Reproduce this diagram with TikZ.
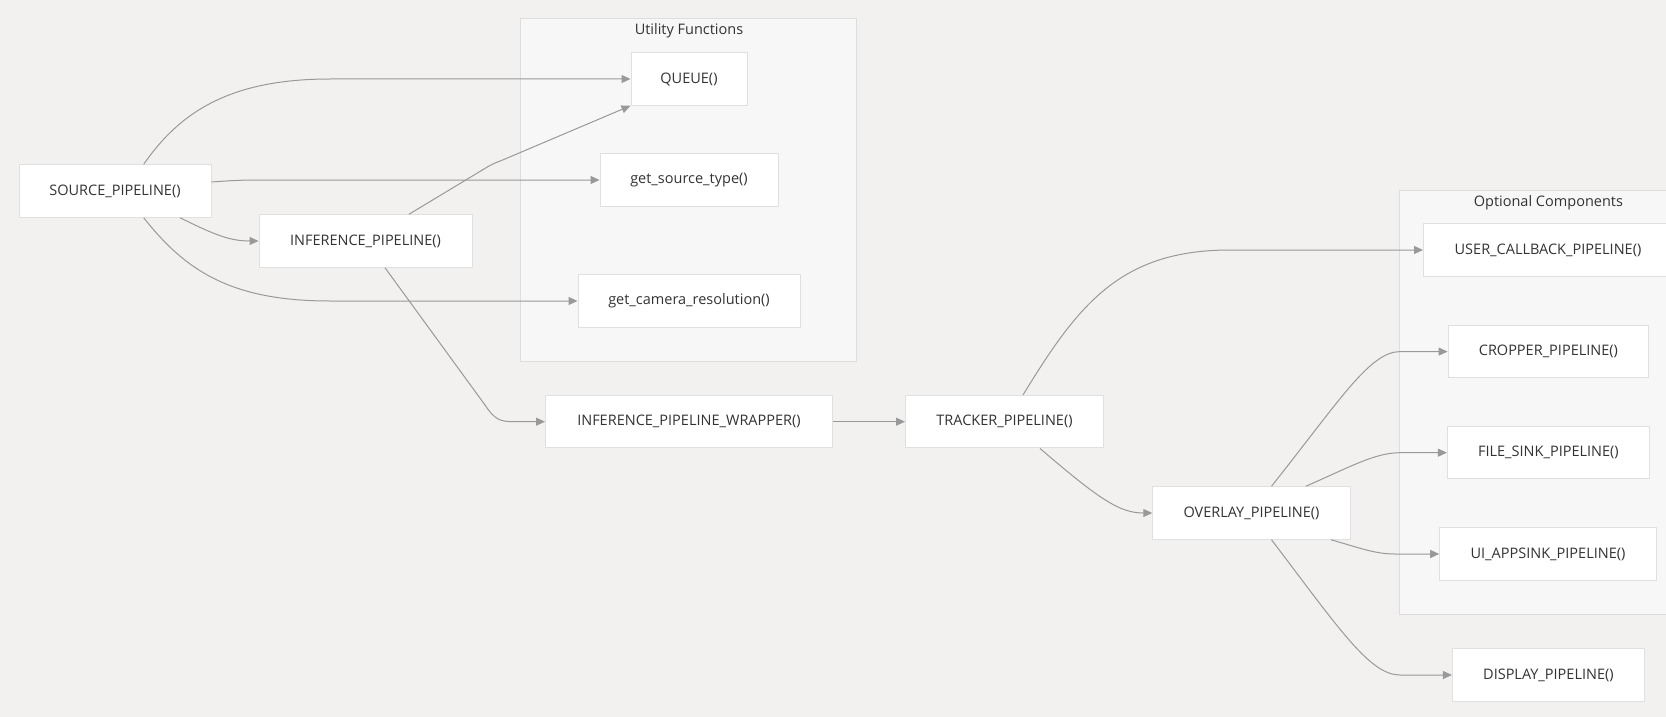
\documentclass[tikz,border=0pt]{standalone}
\usepackage{fontspec}
\setmainfont{Open Sans}
\usetikzlibrary{arrows.meta,calc}

\definecolor{canvasbg}{RGB}{242,241,239}
\definecolor{groupfill}{RGB}{247,247,247}
\definecolor{groupline}{RGB}{221,221,221}
\definecolor{boxline}{RGB}{224,224,224}
\definecolor{wire}{RGB}{153,153,153}
\definecolor{ink}{RGB}{51,51,51}

\tikzset{
  fn/.style={draw=boxline, line width=1pt, fill=white, rectangle,
    minimum height=52.5pt, inner sep=0pt, text=ink,
    font=\fontsize{14.5}{17}\selectfont},
  group/.style={draw=groupline, line width=1pt, fill=groupfill},
  grouptitle/.style={text=ink, font=\fontsize{14.5}{17}\selectfont, inner sep=0pt},
  link/.style={draw=wire, line width=1pt, -{Triangle[length=9pt,width=8pt]}},
}

\begin{document}
\begin{tikzpicture}[x=1pt,y=-1pt]
  % canvas
  \fill[canvasbg] (0,0) rectangle (1666,717);
  \useasboundingbox (0,0) rectangle (1666,717);
  \clip (0,0) rectangle (1666,717);

  % groups
  \draw[group] (520.6,18.7) rectangle (856.8,361);
  \node[grouptitle] (utiltitle) at (689,30.5) {Utility Functions};
  \draw[group] (1399.3,190.3) rectangle (1700,614);
  \node[grouptitle] (opttitle) at (1548.4,203) {Optional Components};

  % functions
  \node[fn, minimum width=192pt] (src)   at (115,191)      {SOURCE\_PIPELINE()};
  \node[fn, minimum width=213pt] (inf)   at (365.5,241)    {INFERENCE\_PIPELINE()};
  \node[fn, minimum width=116pt] (queue) at (689,79)       {QUEUE()};
  \node[fn, minimum width=178pt] (gst)   at (689,180)      {get\_source\_type()};
  \node[fn, minimum width=222pt] (gcr)   at (689,301)      {get\_camera\_resolution()};
  \node[fn, minimum width=287pt] (wrap)  at (689,421.7)    {INFERENCE\_PIPELINE\_WRAPPER()};
  \node[fn, minimum width=198pt] (trk)   at (1004.5,421.7) {TRACKER\_PIPELINE()};
  \node[fn, minimum width=197.5pt] (ovl) at (1251.5,513)   {OVERLAY\_PIPELINE()};
  \node[fn, minimum width=249pt] (ucb)   at (1548,250)     {USER\_CALLBACK\_PIPELINE()};
  \node[fn, minimum width=200.7pt] (crop) at (1548.4,351.6) {CROPPER\_PIPELINE()};
  \node[fn, minimum width=202pt] (fsink) at (1548.4,452.7) {FILE\_SINK\_PIPELINE()};
  \node[fn, minimum width=216.6pt] (uias) at (1548,554)    {UI\_APPSINK\_PIPELINE()};
  \node[fn, minimum width=192pt] (disp)  at (1548.4,675)   {DISPLAY\_PIPELINE()};

  % connectors
  \draw[link] ($(src.north)+(28.7,0)$) .. controls (180,112) and (230,79) .. (330,79) -- (queue.west);
  \draw[link] ($(src.east)+(0,-9)$) .. controls (240,180) .. (280,180) -- (gst.west);
  \draw[link] ($(src.south)+(65,0)$) .. controls (215,235) and (230,241) .. (inf.west);
  \draw[link] ($(src.south)+(28.7,0)$) .. controls (185,270) and (230,301) .. (330,301) -- (gcr.west);
  \draw[link] ($(inf.north)+(43.5,0)$) -- (488,166.6) .. controls (494,163) and (498,162) .. (505,159) -- (queue.south west);
  \draw[link] ($(inf.south)+(19.5,0)$) -- (485,405) .. controls (495,420) and (500,421.7) .. (515,421.7) -- (wrap.west);
  \draw[link] (wrap.east) -- (trk.west);
  \draw[link] ($(trk.north)+(18.5,0)$) .. controls (1078,305) and (1120,250) .. (1230,250) -- (ucb.west);
  \draw[link] ($(trk.south)+(35.5,0)$) .. controls (1100,500) and (1120,513) .. (ovl.west);
  \draw[link] ($(ovl.north)+(20,0)$) .. controls (1340,400) and (1370,351.6) .. (1400,351.6) -- (crop.west);
  \draw[link] ($(ovl.north)+(54.3,0)$) .. controls (1350,467) and (1375,452.7) .. (1400,452.7) -- (fsink.west);
  \draw[link] ($(ovl.south)+(79.5,0)$) .. controls (1360,548) and (1375,554) .. (1395,554) -- (uias.west);
  \draw[link] ($(ovl.south)+(20,0)$) .. controls (1340,630) and (1370,675) .. (1400,675) -- (disp.west);
\end{tikzpicture}
\end{document}
